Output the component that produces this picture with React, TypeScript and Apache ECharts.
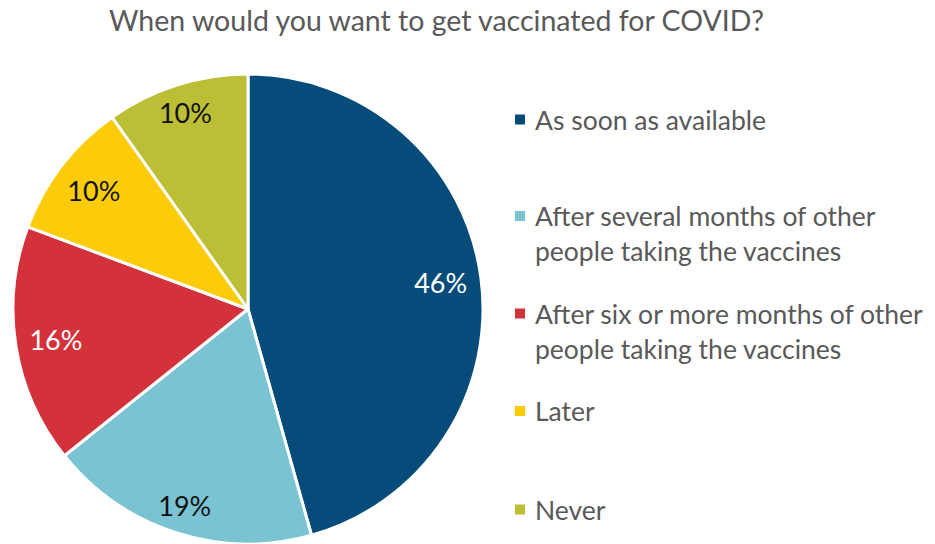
import React, { useEffect, useRef } from "react";
import * as echarts from "echarts";

const TITLE = "When would you want to get vaccinated for COVID?";
const categories = [
  "As soon as available",
  "After several months of other\npeople taking the vaccines",
  "After six or more months of other\npeople taking the vaccines",
  "Later",
  "Never",
];
const values = [45.6, 18.6, 16.4, 9.5, 9.8];
const colors = ["#064C7B", "#79C3D3", "#D3323A", "#FCCC0A", "#BCBE36"];
const labelColors = ["#FFFFFF", "#111111", "#FFFFFF", "#111111", "#111111"];
// which label ring each slice's label sits in (0 = inner, 1 = outer)
const labelRing = [0, 1, 0, 0, 1];
const legendTops = [97, 158.5, 256, 388.5, 487];

const FONT = "Lato";

export default function App() {
  const ref = useRef<HTMLDivElement>(null);
  useEffect(() => {
    if (!ref.current) return;
    const chart = echarts.init(ref.current, undefined, { renderer: "svg" });
    const R = 235;
    const center = [248, 309];
    const ringInner = [148, 172];
    const pieData = categories.map((name, i) => ({
      name,
      value: values[i],
      itemStyle: { color: colors[i] },
    }));
    const labelSeries = ringInner.map((inner, ring) => ({
      type: "pie",
      center,
      radius: [inner, R],
      startAngle: 90,
      clockwise: true,
      silent: true,
      legendHoverLink: false,
      itemStyle: { color: "rgba(0,0,0,0)" },
      label: {
        show: true,
        position: "inside",
        fontFamily: FONT,
        fontWeight: 400,
        fontSize: 27,
        formatter: (p: any) => Math.round(p.value) + "%",
      },
      labelLine: { show: false },
      data: categories.map((name, i) => ({
        name,
        value: values[i],
        label: { show: labelRing[i] === ring, color: labelColors[i] },
      })),
    }));
    const legends = categories.map((name, i) => {
      const twoLine = name.indexOf("\n") >= 0;
      return {
        data: [name],
        left: 508,
        top: legendTops[i],
        orient: "vertical",
        icon: "rect",
        itemWidth: 12,
        itemHeight: 12,
        selectedMode: false,
        formatter: (n: string) => (twoLine ? "\n" + n : n),
        textStyle: {
          fontFamily: FONT,
          fontWeight: 400,
          fontSize: 26.5,
          color: "#595959",
          lineHeight: 35,
          padding: [0, 0, 0, 4],
        },
      };
    });
    chart.setOption({
      animation: false,
      title: {
        text: TITLE,
        left: 104,
        top: 0,
        textStyle: {
          fontFamily: FONT,
          fontWeight: 400,
          fontSize: 28.5,
          color: "#595959",
        },
      },
      legend: legends,
      series: [
        {
          type: "pie",
          center,
          radius: [0, R],
          startAngle: 90,
          clockwise: true,
          silent: true,
          label: { show: false },
          labelLine: { show: false },
          itemStyle: { borderColor: "#FFFFFF", borderWidth: 3 },
          data: pieData,
        },
        ...labelSeries,
      ],
    });
    return () => chart.dispose();
  }, []);
  return (
    <div
      ref={ref}
      style={{ position: "fixed", left: 0, top: 0, width: 935, height: 544, background: "#fff" }}
    />
  );
}
